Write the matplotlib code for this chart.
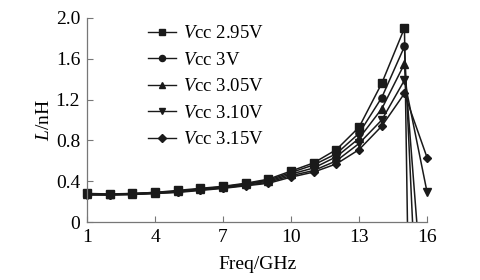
import matplotlib
matplotlib.use('Agg')
import matplotlib.pyplot as plt
from matplotlib.lines import Line2D
import numpy as np

plt.rcParams['font.family'] = ['Liberation Serif', 'DejaVu Serif']
plt.rcParams['mathtext.fontset'] = 'custom'
plt.rcParams['mathtext.it'] = 'Liberation Serif:italic'
plt.rcParams['mathtext.rm'] = 'Liberation Serif'

freq = list(range(1, 17))
labels = ['2.95V', '3V', '3.05V', '3.10V', '3.15V']
markers = ['s', 'o', '^', 'v', 'D']
L_295 = [0.28, 0.275, 0.28, 0.29, 0.31, 0.33, 0.35, 0.38, 0.42, 0.50, 0.58, 0.71, 0.93, 1.36, 1.90, -12.5]
L_300 = [0.275, 0.27, 0.28, 0.29, 0.30, 0.325, 0.345, 0.375, 0.41, 0.485, 0.56, 0.67, 0.87, 1.22, 1.72, -3.1]
L_305 = [0.27, 0.27, 0.275, 0.285, 0.30, 0.32, 0.34, 0.37, 0.40, 0.47, 0.53, 0.64, 0.82, 1.11, 1.55, -1.3]
L_310 = [0.27, 0.265, 0.27, 0.28, 0.295, 0.315, 0.335, 0.36, 0.39, 0.455, 0.505, 0.60, 0.77, 1.00, 1.39, 0.29]
L_315 = [0.265, 0.265, 0.27, 0.28, 0.29, 0.31, 0.33, 0.355, 0.38, 0.44, 0.49, 0.57, 0.71, 0.94, 1.26, 0.63]
series = [L_295, L_300, L_305, L_310, L_315]

fig = plt.figure(figsize=(4.81, 2.8), dpi=100)
ax = fig.add_axes([0.181, 0.207, 0.707, 0.729])

handles = []
for vals, m, lab in zip(series, markers, labels):
    x = np.array(freq)
    y = np.array(vals)
    ms = 4.4 if m == 'D' else 5.2
    ax.plot(x, y, color='#1a1a1a', lw=1.1)
    keep = (y >= 0) & (y <= 2.0)
    ax.plot(x[keep], y[keep], ls='none', marker=m, ms=ms, color='#1a1a1a', clip_on=False)
    handles.append(Line2D([], [], color='#1a1a1a', lw=1.0, marker=m, ms=ms - 0.8,
                          label=r'$V$cc ' + lab))

ax.set_xlim(1, 16)
ax.set_ylim(0, 2.0)
ax.set_xticks([1, 4, 7, 10, 13, 16])
ax.set_yticks([0, 0.4, 0.8, 1.2, 1.6, 2.0])
ax.set_yticklabels(['0', '0.4', '0.8', '1.2', '1.6', '2.0'])
ax.tick_params(direction='in', length=4, width=0.8, color='#777777', labelsize=14, pad=5)
for s in ['top', 'right']:
    ax.spines[s].set_visible(False)
for s in ['left', 'bottom']:
    ax.spines[s].set_color('#777777')
    ax.spines[s].set_linewidth(0.9)

ax.set_xlabel('Freq/GHz', fontsize=14, labelpad=7)
ax.set_ylabel(r'$L$/nH', fontsize=14, labelpad=2)

ax.legend(handles=handles, loc='upper left', bbox_to_anchor=(0.145, 1.02), frameon=False,
          fontsize=13.5, handlelength=1.5, handletextpad=0.4, labelspacing=0.5,
          borderaxespad=0.2)

fig.savefig('out.png', dpi=100)
